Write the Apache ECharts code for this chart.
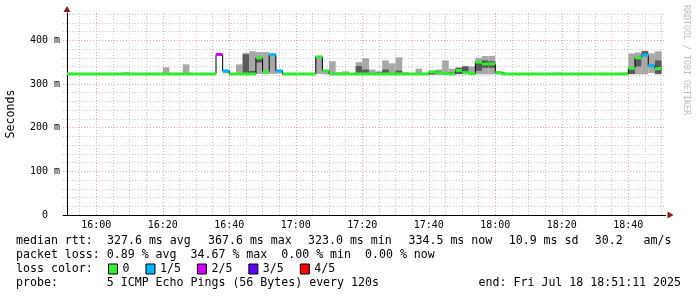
<!DOCTYPE html>
<html><head><meta charset="utf-8">
<script src="https://cdn.jsdelivr.net/npm/echarts@6/dist/echarts.min.js"></script>
<style>html,body{margin:0;padding:0;background:#fff}#c{width:697px;height:297px}</style>
</head><body><div id="c"></div>
<script>
// ---- time frame (minutes since midnight) ----
const graphStart = 951 + 11/60;   // 15:51:11
const graphEnd = 1131 + 11/60;    // 18:51:11
const firstStep = 950;            // 15:50, steps of 2 min (120 s)
const stepLen = 2;

// ---- data (ms), one value per 2-minute step ----
const median = [
 323,323,323,323,323,323,323,323,323,323,
 323,323,323,323,323,323,323,323,323,323,
 323,323,323,367.6,330,323,323,323,323,360,
 328,367,330,323,323,323,323,323,362,330,
 323,323,323,323,323,323,323,323,323,323,
 323,323,323,323,323,328,326,324,323,331,
 326,324,350,346,346,326,323,323,323,323,
 323,323,323,323,323,323,323,323,323,323,
 323,323,323,323,323,336,360,366,342,335,
 null];
const lossCount = [
 0,0,0,0,0,0,0,0,0,0,
 0,0,0,0,0,0,0,0,0,0,
 0,0,0,2,1,0,0,0,0,0,
 0,1,1,0,0,0,0,0,0,0,
 0,0,0,0,0,0,0,0,0,0,
 0,0,0,0,0,0,0,0,0,0,
 0,0,0,0,0,0,0,0,0,0,
 0,0,0,0,0,0,0,0,0,0,
 0,0,0,0,0,0,0,1,1,0,
 null];
const smokeMin = [
 322,322,322,322,322,322,322,322,322,322,
 322,322,322,322,322,322,322,322,322,322,
 322,322,322,366,324,322,322,322,322,323,
 322,323,324,322,322,322,322,322,323,322,
 322,322,322,322,322,322,322,322,322,322,
 322,322,322,322,322,321,322,322,322,322,
 322,322,322,322,322,322,322,322,322,322,
 322,322,322,322,322,322,322,322,322,322,
 322,322,322,322,322,322,322,322,325,322,
 null];
const smokeP2 = [
 322.5,322.5,322.5,322.5,322.5,322.5,322.5,322.5,322.5,322.5,
 322.5,322.5,322.5,322.5,322.5,322.5,322.5,322.5,322.5,322.5,
 322.5,322.5,322.5,null,null,322.5,322.5,323,323,349,
 null,null,null,322.5,322.5,322.5,322.5,322.5,null,null,
 322.5,322.5,322.5,322.5,323,323,322.5,322.5,322.5,322.5,
 322.5,322.5,322.5,322.5,322.5,322,322,322.5,322.5,323,
 326,322.5,330,337,337,322.5,322.5,322.5,322.5,322.5,
 322.5,322.5,322.5,322.5,322.5,322.5,322.5,322.5,322.5,322.5,
 322.5,322.5,322.5,322.5,322.5,323,340,366,null,323,
 null];
const smokeP4 = [
 323.5,323.5,323.5,323.5,323.5,323.5,323.5,323.5,323.5,323.5,
 323.5,323.5,323.5,323.5,323.5,323.5,323.5,323.5,323.5,323.5,
 323.5,323.5,323.5,null,null,323.5,323.5,368,330,361,
 null,null,null,323.5,323.5,323.5,323.5,323.5,null,null,
 323.5,323.5,323.5,323.5,341,333,323.5,327,333,323.5,
 331,323.5,323.5,323.5,323.5,326,330,323.5,327,337,
 340,323.5,349,354,352,323.5,323.5,323.5,323.5,323.5,
 323.5,323.5,323.5,323.5,323.5,323.5,323.5,323.5,323.5,323.5,
 323.5,323.5,323.5,323.5,323.5,335,357,375,null,354,
 null];
const smokeMax = [
 324,324,324,324,324,324,324,324,324,327,
 324,324,324,324,324,338,324,324,345,324,
 324,324,324,369,331,324,345,371,375,373,
 373,368,332,324,324,324,324,324,363,331,
 352,327,329,324,350,359,333,329,354,347,
 361,327,324,335,324,329,333,354,335,338,
 341,340,360,364,364,328,324,324,324,324,
 324,324,324,324,326,324,324,324,324,324,
 324,324,324,324,326,370,372,376,370,375,
 null];

// ---- ticks / labels ----
const xLabelValues = [960, 980, 1000, 1020, 1040, 1060, 1080, 1100, 1120];
const xLabelTexts = ['16:00','16:20','16:40','17:00','17:20','17:40','18:00','18:20','18:40'];
const yLabelValues = [0, 100, 200, 300, 400];
const yLabelTexts = ['0  ', '100 m', '200 m', '300 m', '400 m'];
const lossNames = ['0', '1/5', '2/5', '3/5', '4/5'];
const lossColors = ['#2ef02e', '#00b4ff', '#d200ff', '#6000ff', '#ff0000'];

const statsLine1 = ['median rtt:', '327.6 ms avg', '367.6 ms max', '323.0 ms min', '334.5 ms now', '10.9 ms sd', '30.2', 'am/s'];
const statsLine2 = 'packet loss: 0.89 % avg  34.67 % max  0.00 % min  0.00 % now';
const lossLabel = 'loss color:';
const probeText = 'probe:       5 ICMP Echo Pings (56 Bytes) every 120s';
const endText = 'end: Fri Jul 18 18:51:11 2025';
const watermark = 'RRDTOOL / TOBI OETIKER';

// layout
const statsLine1X = [16, 107, 208, 308, 408.5, 508.7, 594.7, 643.6];
const mono = "'DejaVu Sans Mono', monospace";
const fs = 11.6;

// ---- build rows ----
const smokeRows = [], lineData = [];
const bandRows = lossNames.map(() => []);
median.forEach((m, i) => {
  const s = Math.max(firstStep + stepLen * i, graphStart);
  const e = firstStep + stepLen * (i + 1);
  smokeRows.push([s, e, smokeMin[i], smokeP2[i], smokeP4[i], smokeMax[i]]);
  if (m == null) { lineData.push([s, null]); return; }
  lineData.push([s, m], [e, m]);
  bandRows[lossCount[i]].push([s, e, m]);
});

function num(v) { return typeof v === 'number' && !isNaN(v); }

const chart = echarts.init(document.getElementById('c'), null, {renderer: 'canvas'});
const gridLeft = 67 - (graphStart - firstStep) * 3.325;
const gridRight = 697 - 665.5;

const series = [
  {
    type: 'custom', name: 'smoke', clip: true, z: 2,
    encode: {x: [0, 1], y: [2, 5]},
    data: smokeRows,
    renderItem(params, api) {
      const s = api.value(0), e = api.value(1);
      const mn = api.value(2), p2 = api.value(3), p4 = api.value(4), mx = api.value(5);
      const ch = [];
      if (num(mn) && num(mx)) {
        const a = api.coord([s, mx]), b = api.coord([e, mn]);
        ch.push({type: 'rect', shape: {x: a[0], y: a[1], width: b[0] - a[0], height: b[1] - a[1]}, style: {fill: '#a8a8a8'}});
      }
      if (num(p2) && num(p4)) {
        const a = api.coord([s, p4]), b = api.coord([e, p2]);
        ch.push({type: 'rect', shape: {x: a[0], y: a[1], width: b[0] - a[0], height: b[1] - a[1]}, style: {fill: '#5a5a5a'}});
      }
      return {type: 'group', children: ch};
    }
  },
  {
    type: 'line', name: 'medianLine', data: lineData, z: 3,
    symbol: 'none', connectNulls: false,
    lineStyle: {color: '#000', width: 1}, silent: true
  }
];
lossNames.forEach((n, k) => {
  series.push({
    type: 'custom', name: n, clip: true, z: 4,
    itemStyle: {color: lossColors[k]},
    encode: {x: [0, 1], y: 2},
    data: bandRows[k],
    renderItem(params, api) {
      const a = api.coord([api.value(0), api.value(2)]);
      const b = api.coord([api.value(1), api.value(2)]);
      return {type: 'rect', shape: {x: a[0], y: a[1] - 1.5, width: b[0] - a[0], height: 3}, style: {fill: lossColors[k]}};
    }
  });
});

const graphic = [];
statsLine1.forEach((t, i) => graphic.push({type: 'text', x: statsLine1X[i], y: 241, style: {text: t, font: fs + 'px ' + mono, fill: '#000', verticalAlign: 'middle'}}));
graphic.push({type: 'text', x: 16, y: 255, style: {text: statsLine2, font: fs + 'px ' + mono, fill: '#000', verticalAlign: 'middle'}});
graphic.push({type: 'text', x: 16, y: 269, style: {text: lossLabel, font: fs + 'px ' + mono, fill: '#000', verticalAlign: 'middle'}});
graphic.push({type: 'text', x: 16, y: 283, style: {text: probeText, font: fs + 'px ' + mono, fill: '#000', verticalAlign: 'middle'}});
graphic.push({type: 'text', x: 681, y: 283, style: {text: endText, font: fs + 'px ' + mono, fill: '#000', align: 'right', verticalAlign: 'middle'}});
graphic.push({type: 'text', x: 686, y: 5, rotation: -Math.PI / 2, style: {text: watermark, font: '8.3px ' + mono, fill: '#bdbdbd', align: 'left', verticalAlign: 'middle'}});

const red = '#f2a2a2', grey = '#c6c6c6', arrow = '#8e1a1a';

chart.setOption({
  animation: false,
  backgroundColor: '#fff',
  grid: {left: gridLeft, right: gridRight, top: 13, bottom: 82, containLabel: false, outerBoundsMode: 'none'},
  xAxis: [{
    type: 'value', min: firstStep, max: graphEnd, interval: 5,
    axisLine: {show: true, onZero: false, lineStyle: {color: '#000', width: 1}},
    axisTick: {show: false},
    axisLabel: {
      show: true, margin: 5, color: '#000', fontFamily: mono, fontSize: 10,
      formatter: v => { const i = xLabelValues.indexOf(Math.round(v * 1000) / 1000); return i >= 0 ? xLabelTexts[i] : ''; }
    },
    splitLine: {show: true, showMinLine: false, showMaxLine: false, lineStyle: {color: [grey, red, grey, grey], type: [1, 2], width: 1}}
  }, {
    type: 'value', position: 'top', offset: -202, min: firstStep, max: graphEnd,
    axisLine: {show: true, onZero: false, symbol: ['none', 'triangle'], symbolSize: [7, 6], symbolOffset: [0, 5], lineStyle: {color: arrow, width: 0}},
    axisTick: {show: false}, axisLabel: {show: false}, splitLine: {show: false}
  }],
  yAxis: [{
    type: 'value', min: 0, max: 462.5, interval: 100, offset: -(67 - gridLeft),
    name: 'Seconds', nameLocation: 'middle', nameGap: 50, nameRotate: 90,
    nameTextStyle: {fontFamily: mono, fontSize: fs, color: '#000'},
    axisLine: {show: true, onZero: false, lineStyle: {color: '#000', width: 1}},
    axisTick: {show: false},
    axisLabel: {
      show: true, margin: 7, color: '#000', fontFamily: mono, fontSize: 10, showMaxLabel: false,
      formatter: v => { const i = yLabelValues.indexOf(v); return i >= 0 ? yLabelTexts[i] : ''; }
    },
    splitLine: {show: true, showMinLine: false, showMaxLine: false, lineStyle: {color: red, type: [1, 2], width: 1}},
    minorTick: {show: false, splitNumber: 5},
    minorSplitLine: {show: true, lineStyle: {color: grey, type: [1, 2], width: 1}}
  }, {
    type: 'value', position: 'right', offset: -(665.5 - 67), min: 0, max: 462.5,
    axisLine: {show: true, onZero: false, symbol: ['none', 'triangle'], symbolSize: [7, 6], symbolOffset: [0, 4], lineStyle: {color: arrow, width: 0}},
    axisTick: {show: false}, axisLabel: {show: false}, splitLine: {show: false}
  }],
  legend: {
    show: true, left: 108, top: 263, orient: 'horizontal', selectedMode: false,
    itemWidth: 9, itemHeight: 10, itemGap: 16, padding: 0,
    textStyle: {fontFamily: mono, fontSize: fs, color: '#000', padding: [0, 0, 0, 0]},
    data: lossNames.map((n, k) => ({name: n, icon: 'rect', itemStyle: {color: lossColors[k], borderColor: '#000', borderWidth: 1}}))
  },
  graphic: graphic,
  series: series
});
</script>
</body></html>
